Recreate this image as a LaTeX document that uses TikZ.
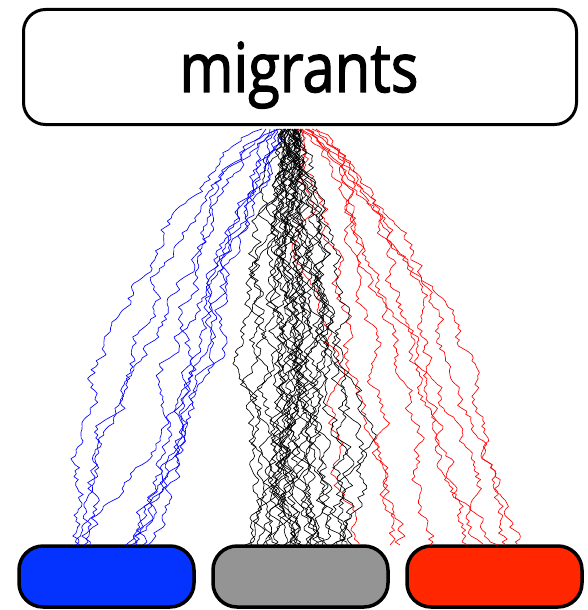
\documentclass[tikz,border=0pt]{standalone}
\usepackage{fontspec}
\setmainfont{Open Sans}
\newfontfamily\migfont[FakeBold=2]{Open Sans}
\definecolor{binblue}{RGB}{4,51,255}
\definecolor{bingray}{RGB}{148,148,148}
\definecolor{binred}{RGB}{255,38,0}
\tikzset{
  topbox/.style={draw=black, line width=3pt, rounded corners=22pt, fill=white},
  binbox/.style={draw=black, line width=3.5pt, rounded corners=24pt},
  walkline/.style={line width=0.65pt, line join=round},
}
\newcommand\mkwalk[5]{%
  \global\def\wb{0}%
  \xdef\wpath{(#1,129)}%
  \foreach \k in {1,...,139}{%
    \pgfmathsetmacro\wt{\k/140}%
    \pgfmathsetmacro\nb{\wb - \wb/(141-\k) + #4*rand}%
    \global\let\wb\nb
    \pgfmathsetmacro\xx{#1+(#2-#1)*(\wt)^(#3) + \nb}%
    \pgfmathsetmacro\yy{129+416*\wt}%
    \xdef\wpath{\wpath -- (\xx,\yy)}%
  }%
  \draw[walkline,#5] \wpath -- (#2,545);
}
\begin{document}
\begin{tikzpicture}[x=1pt,y=-1pt]
\useasboundingbox (0,0) rectangle (588,610);
\pgfmathsetseed{4321}
% bins
\draw[binbox, fill=binblue] (19,546) rectangle (194,607);
\draw[binbox, fill=bingray] (213,546) rectangle (388,607);
\draw[binbox, fill=binred] (407,546) rectangle (582,607);
\node[inner sep=0, minimum width=175pt, minimum height=60pt] (bl) at (106,577) {};
\node[inner sep=0, minimum width=175pt, minimum height=60pt] (bg) at (300,577) {};
\node[inner sep=0, minimum width=175pt, minimum height=60pt] (br) at (494,577) {};
% blue walks
\foreach \xs/\xe/\p in {262/76/0.7, 270/80/0.8, 280/84/0.65, 276/90/0.85, 285/126/0.7, 278/131/0.75, 266/137/0.65, 288/143/0.8, 274/148/0.9}{
  \mkwalk{\xs}{\xe}{\p}{4.6}{blue}
}
% red walks
\foreach \xs/\xe/\p in {300/390/0.85, 306/430/0.75, 296/468/0.8, 316/484/0.65, 302/498/0.75, 312/506/0.7, 305/518/0.65, 298/360/0.95, 308/400/0.7}{
  \mkwalk{\xs}{\xe}{\p}{4.6}{red}
}
% black walks
\foreach \xs/\xe in {286/245, 290/252, 284/258, 294/263, 288/268, 292/274, 280/280, 296/285, 290/290, 286/294, 298/298, 284/302, 292/306, 288/310, 300/314, 294/318, 282/322, 296/327, 290/332, 302/337, 286/342, 298/347, 292/352, 288/296, 294/284, 290/312}{
  \mkwalk{\xs}{\xe}{1}{5.2}{black}
}
% top box
\node[topbox, minimum width=553pt, minimum height=115pt, inner sep=0] (mig) at (300,67) {};
\node[anchor=base, inner sep=0] (lab) at (299,92) {\scalebox{1}[1.18]{\migfont\fontsize{58}{60}\selectfont migrants}};
\end{tikzpicture}
\end{document}
